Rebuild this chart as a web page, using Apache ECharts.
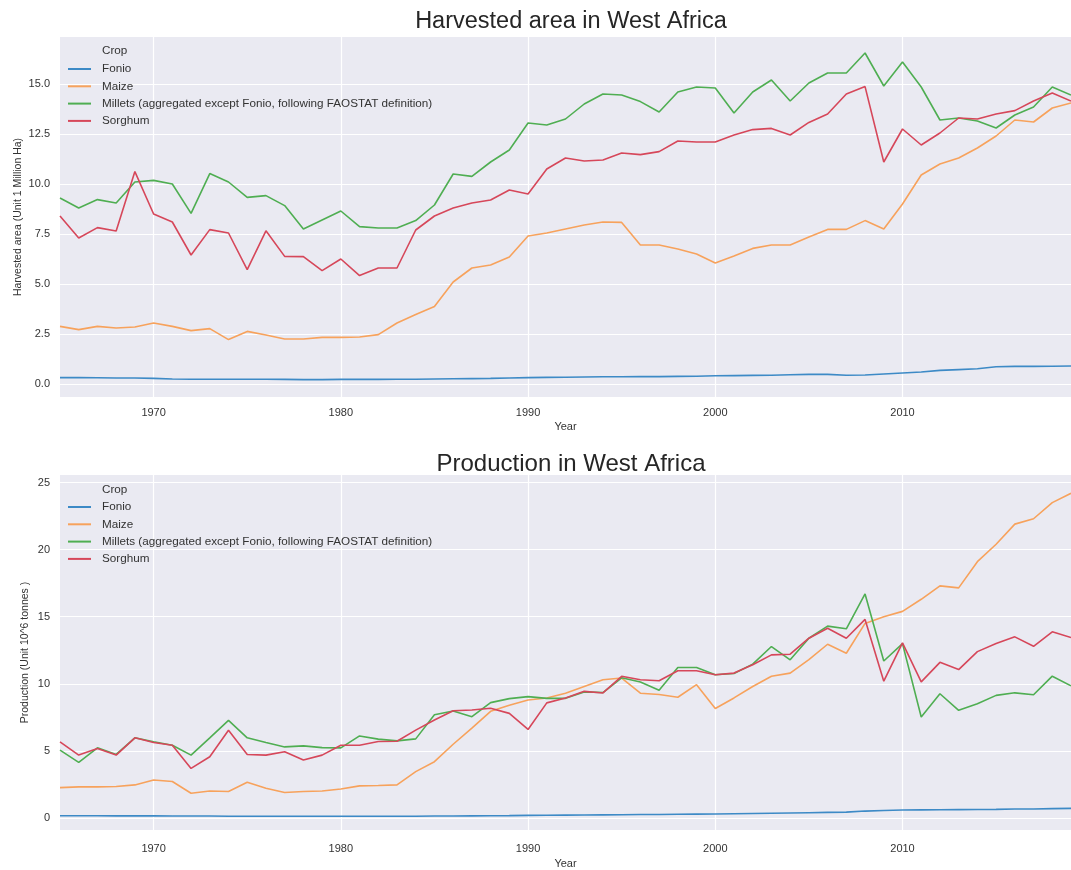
<!DOCTYPE html>
<html>
<head>
<meta charset="utf-8">
<script src="https://cdn.jsdelivr.net/npm/echarts@6/dist/echarts.min.js"></script>
<style>
html,body{margin:0;padding:0;background:#fff;}
#c{width:1071px;height:870px;}
</style>
</head>
<body>
<div id="c"></div>
<script>
// ---------- data ----------
const years = [];
for (let y = 1965; y <= 2019; y++) years.push(y);

const crops = ["Fonio", "Maize", "Millets (aggregated except Fonio, following FAOSTAT definition)", "Sorghum"];

// Harvested area (Unit 1 Million Ha)
const areaFonio = [0.32,0.32,0.31,0.30,0.30,0.28,0.25,0.24,0.24,0.24,0.24,0.24,0.23,0.22,0.22,
  0.23,0.23,0.23,0.24,0.24,0.25,0.26,0.27,0.28,0.30,
  0.32,0.33,0.34,0.35,0.36,0.36,0.37,0.37,0.38,0.39,
  0.41,0.42,0.43,0.44,0.46,0.48,0.48,0.44,0.45,0.50,
  0.55,0.60,0.68,0.72,0.76,0.86,0.88,0.88,0.89,0.90];
const areaMaize = [2.88,2.72,2.88,2.80,2.85,3.05,2.88,2.67,2.77,2.22,2.63,2.45,2.25,2.25,2.33,
  2.33,2.35,2.47,3.05,3.47,3.88,5.10,5.80,5.95,6.35,
  7.40,7.55,7.75,7.95,8.10,8.08,6.95,6.95,6.75,6.50,
  6.05,6.40,6.78,6.95,6.95,7.35,7.73,7.73,8.17,7.75,
  9.00,10.45,11.00,11.30,11.80,12.40,13.20,13.10,13.80,14.05];
const areaMillets = [9.30,8.80,9.22,9.05,10.10,10.18,10.00,8.53,10.52,10.10,9.33,9.42,8.92,7.75,8.20,
  8.65,7.87,7.80,7.80,8.17,8.95,10.50,10.38,11.10,11.70,
  13.05,12.95,13.25,14.00,14.50,14.45,14.12,13.60,14.60,14.85,
  14.80,13.55,14.60,15.20,14.15,15.05,15.55,15.55,16.55,14.90,
  16.10,14.85,13.20,13.30,13.15,12.80,13.45,13.85,14.85,14.45];
const areaSorghum = [8.40,7.30,7.82,7.65,10.62,8.50,8.10,6.45,7.72,7.55,5.72,7.66,6.38,6.37,5.67,
  6.25,5.42,5.80,5.80,7.70,8.40,8.80,9.05,9.20,9.70,
  9.50,10.75,11.30,11.15,11.20,11.55,11.47,11.62,12.15,12.10,
  12.10,12.45,12.72,12.78,12.45,13.08,13.50,14.50,14.87,11.10,
  12.75,11.95,12.55,13.30,13.25,13.50,13.67,14.15,14.55,14.15];

// Production (Unit 10^6 tonnes)
const prodFonio = [0.17,0.17,0.17,0.16,0.16,0.16,0.15,0.15,0.15,0.14,0.14,0.14,0.14,0.13,0.13,
  0.13,0.13,0.13,0.14,0.14,0.15,0.15,0.16,0.17,0.18,
  0.20,0.21,0.22,0.23,0.24,0.25,0.26,0.27,0.28,0.29,
  0.30,0.32,0.34,0.36,0.38,0.40,0.42,0.44,0.52,0.56,
  0.60,0.61,0.62,0.63,0.64,0.65,0.67,0.68,0.70,0.72];
const prodMaize = [2.27,2.32,2.32,2.35,2.47,2.84,2.72,1.85,2.02,1.98,2.67,2.22,1.90,1.98,2.02,
  2.17,2.40,2.42,2.47,3.46,4.20,5.50,6.70,7.95,8.40,
  8.80,8.95,9.30,9.80,10.30,10.43,9.30,9.20,9.00,9.94,
  8.16,8.95,9.80,10.56,10.80,11.80,12.95,12.28,14.50,15.00,
  15.40,16.30,17.30,17.15,19.10,20.40,21.90,22.30,23.50,24.20];
const prodMillets = [5.06,4.15,5.23,4.74,5.98,5.68,5.43,4.69,5.98,7.28,5.98,5.63,5.30,5.38,5.25,
  5.23,6.12,5.88,5.75,5.90,7.70,7.98,7.55,8.60,8.90,
  9.05,8.92,8.92,9.40,9.35,10.45,10.13,9.53,11.22,11.22,
  10.68,10.77,11.47,12.78,11.79,13.40,14.30,14.10,16.70,11.70,
  13.00,7.53,9.26,8.03,8.52,9.14,9.33,9.19,10.57,9.85];
const prodSorghum = [5.68,4.69,5.19,4.69,5.98,5.63,5.43,3.70,4.57,6.54,4.74,4.69,4.94,4.32,4.69,
  5.43,5.43,5.70,5.72,6.55,7.30,8.00,8.05,8.18,7.80,
  6.60,8.58,8.95,9.44,9.32,10.56,10.31,10.23,10.98,10.98,
  10.68,10.80,11.42,12.16,12.21,13.40,14.14,13.40,14.80,10.20,
  13.05,10.15,11.60,11.06,12.40,13.00,13.50,12.80,13.88,13.45];

const xTicks = [1970, 1980, 1990, 2000, 2010];
const areaTicks = [0, 2.5, 5, 7.5, 10, 12.5, 15];
const prodTicks = [0, 5, 10, 15, 20, 25];

// ---------- chart ----------
const colors = ['#3d8ac6', '#f7a25c', '#4fae52', '#d6475a'];
const FONT = "'Liberation Sans', Arial, sans-serif";
const pair = arr => years.map((y, i) => [y, arr[i]]);

function xAxis(gi, labelMargin, nameGap) {
  return {
    type: 'value', gridIndex: gi, min: 1965, max: 2019,
    axisLine: {show: false},
    axisTick: {show: false, customValues: xTicks},
    axisLabel: {customValues: xTicks, formatter: v => String(v), color: '#333', fontSize: 11, fontFamily: FONT, margin: labelMargin},
    splitLine: {show: true, lineStyle: {color: '#ffffff', width: 1.2}},
    name: 'Year', nameLocation: 'middle', nameGap: nameGap,
    nameTextStyle: {color: '#333', fontSize: 11, fontFamily: FONT}
  };
}
function yAxis(gi, min, max, ticks, fmt, name, nameGap) {
  return {
    type: 'value', gridIndex: gi, min: min, max: max,
    axisLine: {show: false},
    axisTick: {show: false, customValues: ticks},
    axisLabel: {customValues: ticks, formatter: fmt, color: '#333', fontSize: 11, fontFamily: FONT, margin: 10},
    splitLine: {show: true, lineStyle: {color: '#ffffff', width: 1.2}},
    name: name, nameLocation: 'middle', nameGap: nameGap, nameRotate: 90, nameMoveOverlap: false,
    nameTextStyle: {color: '#333', fontSize: 10.5, fontFamily: FONT}
  };
}
function lineSeries(name, arr, xi, ci) {
  return {
    name: name, type: 'line', xAxisIndex: xi, yAxisIndex: xi,
    data: pair(arr), showSymbol: false, symbol: 'none', silent: true,
    lineStyle: {width: 1.6, color: colors[ci]}, itemStyle: {color: colors[ci]},
    animation: false
  };
}
function legend(top) {
  return {
    data: crops, orient: 'vertical', left: 68, top: top, padding: 0,
    icon: 'rect', itemWidth: 23, itemHeight: 2, itemGap: 3.3,
    textStyle: {color: '#333', fontSize: 11.7, fontFamily: FONT, lineHeight: 14, padding: [0, 0, 0, 6]},
    selectedMode: false
  };
}

const chart = echarts.init(document.getElementById('c'), null, {renderer: 'canvas'});
chart.setOption({
  backgroundColor: '#ffffff',
  animation: false,
  title: [
    {text: 'Harvested area in West Africa', left: 566, top: 5, textAlign: 'center',
     textStyle: {fontSize: 23.5, fontWeight: 'normal', color: '#262626', fontFamily: FONT}},
    {text: 'Production in West Africa', left: 566, top: 447, textAlign: 'center',
     textStyle: {fontSize: 24, fontWeight: 'normal', color: '#262626', fontFamily: FONT}}
  ],
  grid: [
    {left: 60, right: 0, top: 37, height: 360, show: true, backgroundColor: '#EAEAF2', borderWidth: 0},
    {left: 60, right: 0, top: 475, height: 357, show: true, backgroundColor: '#EAEAF2', borderWidth: 0}
  ],
  legend: [legend(62), legend(500)],
  graphic: [
    {type: 'text', left: 102, top: 45, style: {text: 'Crop', fill: '#333', font: "11.7px 'Liberation Sans', Arial"}},
    {type: 'text', left: 102, top: 484, style: {text: 'Crop', fill: '#333', font: "11.7px 'Liberation Sans', Arial"}}
  ],
  xAxis: [xAxis(0, 10, 24), xAxis(1, 13, 28)],
  yAxis: [
    yAxis(0, -0.65, 17.35, areaTicks, v => v.toFixed(1), 'Harvested area (Unit 1 Million Ha)', 36),
    yAxis(1, -0.89, 25.56, prodTicks, v => String(v), 'Production (Unit 10^6 tonnes )', 29)
  ],
  series: [
    lineSeries(crops[0], areaFonio, 0, 0),
    lineSeries(crops[1], areaMaize, 0, 1),
    lineSeries(crops[2], areaMillets, 0, 2),
    lineSeries(crops[3], areaSorghum, 0, 3),
    lineSeries(crops[0], prodFonio, 1, 0),
    lineSeries(crops[1], prodMaize, 1, 1),
    lineSeries(crops[2], prodMillets, 1, 2),
    lineSeries(crops[3], prodSorghum, 1, 3)
  ]
});
</script>
</body>
</html>
